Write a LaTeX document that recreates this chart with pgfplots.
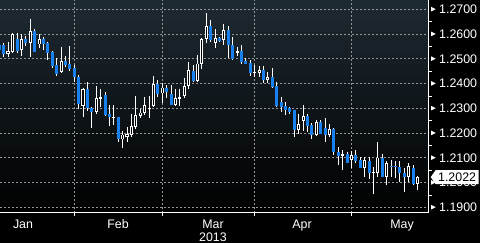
\documentclass[border=0pt]{standalone}
\usepackage{pgfplots}
\pgfplotsset{compat=1.18}
\usepackage{fontspec}
\setmainfont{Liberation Sans}
\usetikzlibrary{shapes.symbols}
\definecolor{cblue}{RGB}{25,128,240}
\definecolor{bgtop}{RGB}{30,42,50}
\definecolor{gridc}{RGB}{150,150,150}
% x, open, high, low, close
\newcommand{\cd}[5]{%
 \addplot[white, line width=0.9pt] coordinates {(#1,#3) (#1,#4)};
 \addplot[cblue, line width=3.2pt] coordinates {(#1,#2) (#1,#5)};}
\newcommand{\cu}[5]{%
 \addplot[white, line width=0.9pt] coordinates {(#1,#3) (#1,#4)};
 \addplot[white, line width=3.4pt] coordinates {(#1,#2) (#1,#5)};
 \addplot[black, line width=1.3pt, shorten <=0.9pt, shorten >=0.9pt] coordinates {(#1,#2) (#1,#5)};}
\newcommand{\cz}[5]{%
 \addplot[white, line width=0.9pt] coordinates {(#1,#3) (#1,#4)};
 \addplot[white, line width=3.4pt] coordinates {(#1,#2) (#1,#5)};}
\begin{document}
\begin{tikzpicture}
\path[use as bounding box, fill=black] (0,-30pt) rectangle (480pt,213pt);
\begin{axis}[
 at={(0,0)}, anchor=south west,
 scale only axis, width=428pt, height=213pt,
 xmin=0, xmax=428, ymin=1.18770, ymax=1.27376,
 axis background/.style={top color=bgtop, bottom color=black},
 axis x line*=bottom, axis y line*=right,
 axis line style={white, line width=1pt, -},
 xtick={74.3,162.3,254.7,351.7}, xticklabels={},
 extra x ticks={23,118,213,302,402},
 extra x tick labels={Jan,Feb,{Mar\\2013},Apr,May},
 extra x tick style={grid=none, tick style={draw=none}},
 ytick={1.19,1.2,1.21,1.22,1.23,1.24,1.25,1.26,1.27},
 minor ytick={1.195,1.205,1.215,1.225,1.235,1.245,1.255,1.265},
 tick align=outside,
 major tick length=3pt, minor tick length=3.5pt,
 tick style={white, line width=0.8pt},
 major y tick style={draw=none},
 minor y tick style={white, line width=0.8pt},
 xmajorgrids, ymajorgrids,
 major grid style={gridc, dash pattern=on 2pt off 2pt, line width=0.7pt},
 /pgf/number format/assume math mode=true,
 ticklabel style={white, font=\fontsize{12.4}{13.5}\selectfont},
 xticklabel style={align=center},
 yticklabel style={anchor=west, inner sep=0pt, xshift=0pt},
 yticklabel={\tikz[baseline=-4.4pt]\fill[white] (0,-2.3pt)--(4.5pt,0)--(0,2.3pt)--cycle;\hspace{3.5pt}\pgfmathprintnumber[fixed,fixed zerofill,precision=4]{\tick}},
 scaled y ticks=false,
 every axis plot/.append style={no marks},
]
\cd{-0.7}{1.2555}{1.2564}{1.2527}{1.2535}
\cd{3.3}{1.2555}{1.2565}{1.2508}{1.2518}
\cu{8}{1.2518}{1.2569}{1.2508}{1.2531}
\cu{12.3}{1.2528}{1.2605}{1.2522}{1.2599}
\cd{17.3}{1.2579}{1.2603}{1.2522}{1.2532}
\cu{21.3}{1.2535}{1.2599}{1.2512}{1.2579}
\cd{25.3}{1.2579}{1.2592}{1.2553}{1.2565}
\cu{30.3}{1.2565}{1.2661}{1.2508}{1.2612}
\cd{34.3}{1.2612}{1.2620}{1.2526}{1.2528}
\cu{39.3}{1.2558}{1.2600}{1.2545}{1.2580}
\cd{43.3}{1.2580}{1.2589}{1.2535}{1.2560}
\cd{47.3}{1.2565}{1.2569}{1.2495}{1.2524}
\cd{52.3}{1.2528}{1.2530}{1.2464}{1.2472}
\cd{56.3}{1.2475}{1.2502}{1.2430}{1.2438}
\cu{61.3}{1.2447}{1.2546}{1.2441}{1.2491}
\cd{65.3}{1.2491}{1.2511}{1.2468}{1.2475}
\cd{69.3}{1.2479}{1.2551}{1.2450}{1.2458}
\cd{74.3}{1.2461}{1.2475}{1.2407}{1.2425}
\cd{78.3}{1.2425}{1.2434}{1.2299}{1.2316}
\cu{83}{1.2309}{1.2384}{1.2265}{1.2376}
\cd{87.3}{1.2376}{1.2405}{1.2288}{1.2303}
\cd{91.3}{1.2303}{1.2304}{1.2221}{1.2286}
\cu{96.3}{1.2286}{1.2390}{1.2276}{1.2340}
\cz{100.3}{1.2337}{1.2376}{1.2306}{1.2344}
\cd{105.3}{1.2353}{1.2364}{1.2270}{1.2272}
\cd{109.3}{1.2276}{1.2313}{1.2228}{1.2263}
\cz{113.3}{1.2263}{1.2313}{1.2232}{1.2265}
\cd{118.3}{1.2265}{1.2266}{1.2164}{1.2174}
\cu{122.3}{1.2174}{1.2207}{1.2140}{1.2194}
\cu{127}{1.2184}{1.2225}{1.2164}{1.2195}
\cu{131.3}{1.2194}{1.2279}{1.2184}{1.2228}
\cu{135.3}{1.2225}{1.2349}{1.2218}{1.2272}
\cu{140.3}{1.2269}{1.2299}{1.2259}{1.2283}
\cu{144.3}{1.2283}{1.2344}{1.2272}{1.2313}
\cz{149.3}{1.2296}{1.2349}{1.2259}{1.2302}
\cu{153.3}{1.2309}{1.2430}{1.2306}{1.2398}
\cd{157.3}{1.2398}{1.2414}{1.2346}{1.2357}
\cu{162.3}{1.2360}{1.2401}{1.2322}{1.2384}
\cd{166.3}{1.2384}{1.2394}{1.2340}{1.2367}
\cd{171.3}{1.2357}{1.2394}{1.2312}{1.2313}
\cu{175.3}{1.2313}{1.2380}{1.2309}{1.2340}
\cz{179.3}{1.2337}{1.2380}{1.2309}{1.2346}
\cu{184.3}{1.2349}{1.2421}{1.2340}{1.2391}
\cu{188.3}{1.2390}{1.2486}{1.2380}{1.2454}
\cd{193.3}{1.2450}{1.2475}{1.2407}{1.2410}
\cu{197.3}{1.2410}{1.2515}{1.2407}{1.2481}
\cu{201.3}{1.2481}{1.2583}{1.2458}{1.2580}
\cu{206.3}{1.2580}{1.2684}{1.2565}{1.2632}
\cd{210.3}{1.2632}{1.2657}{1.2569}{1.2576}
\cu{215.3}{1.2565}{1.2619}{1.2542}{1.2583}
\cd{219.3}{1.2583}{1.2587}{1.2569}{1.2573}
\cu{223.3}{1.2576}{1.2641}{1.2555}{1.2616}
\cd{228.3}{1.2616}{1.2632}{1.2502}{1.2555}
\cd{232.3}{1.2555}{1.2587}{1.2497}{1.2498}
\cz{237.3}{1.2524}{1.2549}{1.2511}{1.2531}
\cd{241.3}{1.2532}{1.2555}{1.2481}{1.2488}
\cd{245.3}{1.2492}{1.2502}{1.2479}{1.2481}
\cd{250.3}{1.2484}{1.2495}{1.2430}{1.2443}
\cz{254.3}{1.2445}{1.2475}{1.2425}{1.2447}
\cu{259.3}{1.2443}{1.2471}{1.2427}{1.2454}
\cd{263.3}{1.2454}{1.2471}{1.2401}{1.2414}
\cu{267.3}{1.2414}{1.2447}{1.2401}{1.2425}
\cd{272.3}{1.2425}{1.2461}{1.2384}{1.2387}
\cd{276.3}{1.2390}{1.2407}{1.2306}{1.2309}
\cd{281.3}{1.2326}{1.2346}{1.2286}{1.2306}
\cd{285.3}{1.2309}{1.2326}{1.2272}{1.2292}
\cd{289.3}{1.2303}{1.2306}{1.2279}{1.2286}
\cd{294.3}{1.2292}{1.2293}{1.2184}{1.2212}
\cu{298.3}{1.2212}{1.2279}{1.2195}{1.2236}
\cu{303.3}{1.2249}{1.2313}{1.2209}{1.2268}
\cd{307.3}{1.2268}{1.2279}{1.2205}{1.2228}
\cd{311.3}{1.2232}{1.2239}{1.2178}{1.2194}
\cu{316.3}{1.2194}{1.2252}{1.2187}{1.2243}
\cd{320.3}{1.2243}{1.2252}{1.2195}{1.2198}
\cd{325.3}{1.2221}{1.2259}{1.2164}{1.2194}
\cu{329.3}{1.2194}{1.2236}{1.2184}{1.2218}
\cd{333.3}{1.2218}{1.2219}{1.2110}{1.2124}
\cd{338.3}{1.2124}{1.2144}{1.2070}{1.2108}
\cz{342.3}{1.2108}{1.2131}{1.2050}{1.2114}
\cd{347.3}{1.2117}{1.2124}{1.2077}{1.2079}
\cu{351.3}{1.2093}{1.2128}{1.2059}{1.2110}
\cd{355.3}{1.2110}{1.2131}{1.2077}{1.2086}
\cd{360.3}{1.2093}{1.2103}{1.2057}{1.2059}
\cu{364.3}{1.2059}{1.2103}{1.2023}{1.2090}
\cd{369.3}{1.2086}{1.2103}{1.2016}{1.2039}
\cz{373.3}{1.2039}{1.2063}{1.1955}{1.2042}
\cu{377.3}{1.2039}{1.2164}{1.2023}{1.2101}
\cd{382.3}{1.2101}{1.2117}{1.2022}{1.2023}
\cu{386.3}{1.2023}{1.2086}{1.1989}{1.2077}
\cd{391.3}{1.2067}{1.2093}{1.2023}{1.2063}
\cd{395.3}{1.2067}{1.2086}{1.2020}{1.2063}
\cd{399.3}{1.2063}{1.2086}{1.2002}{1.2039}
\cd{404.3}{1.2040}{1.2057}{1.1962}{1.2023}
\cu{408.3}{1.2023}{1.2077}{1.2002}{1.2066}
\cd{413.3}{1.2057}{1.2070}{1.1992}{1.1993}
\cu{417.3}{1.1996}{1.2025}{1.1969}{1.2022}
\coordinate (tag) at (axis cs:428,1.2022);
\end{axis}
\node[signal, signal to=west, signal pointer angle=110, fill=white, text=black,
 inner xsep=2.5pt, inner ysep=1pt, minimum height=14pt, anchor=west,
 font=\fontsize{12.4}{13.5}\selectfont] at ([xshift=2.5pt]tag) {1.2022};
\end{tikzpicture}
\end{document}
